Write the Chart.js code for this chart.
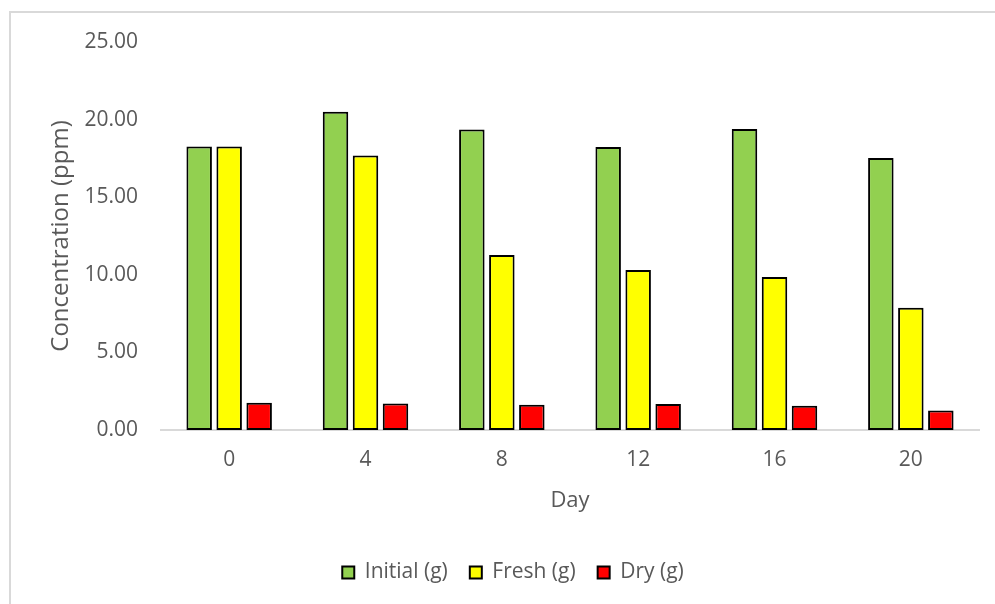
<!DOCTYPE html>
<html>
<head>
<meta charset="utf-8">
<script src="https://cdn.jsdelivr.net/npm/chart.js@4"></script>
<style>
  html, body { margin: 0; padding: 0; background: #fff; overflow: hidden; }
  #frame { position: absolute; left: 9px; top: 11px; width: 1100px; height: 700px;
           border-top: 2px solid #d9d9d9; border-left: 2px solid #d9d9d9; }
  #wrap { position: absolute; left: 0; top: 0; width: 995px; height: 604px; }
</style>
</head>
<body>
<div id="frame"></div>
<div id="wrap"><canvas id="chart" width="995" height="604"></canvas></div>
<script>
// values
const days = ['0', '4', '8', '12', '16', '20'];
const initial = [18.26, 20.51, 19.36, 18.24, 19.40, 17.53];
const fresh = [18.26, 17.68, 11.28, 10.31, 9.86, 7.88];
const dry = [1.76, 1.71, 1.63, 1.67, 1.56, 1.25];
const yTicks = [0, 5, 10, 15, 20, 25];

const textColor = '#595959';
const fontFamily = '"Open Sans", sans-serif';

function bars(label, data, color) {
    return {
        label: label,
        data: data,
        backgroundColor: color,
        borderColor: '#000000',
        borderWidth: 2,
        borderSkipped: false,
        categoryPercentage: 0.66,
        barPercentage: 0.85
    };
}

new Chart(document.querySelector('#chart').getContext('2d'), {
    type: 'bar',
    data: {
        labels: days,
        datasets: [
            bars('Initial (g)', initial, '#92D050'),
            bars('Fresh (g)', fresh, '#FFFF00'),
            bars('Dry (g)', dry, '#FF0000')
        ]
    },
    options: {
        responsive: false,
        animation: false,
        // left padding keeps the legend centred where the original has it
        layout: { padding: { top: 42, right: 16, bottom: 11, left: 47 } },
        plugins: {
            tooltip: { enabled: false },
            legend: {
                position: 'bottom',
                labels: {
                    color: textColor,
                    font: { family: fontFamily, size: 21 },
                    boxWidth: 12,
                    boxHeight: 12,
                    padding: 22
                }
            }
        },
        scales: {
            x: {
                grid: { display: false },
                border: { display: true, color: '#d9d9d9', width: 2 },
                ticks: { color: textColor, font: { family: fontFamily, size: 21 }, padding: 9 },
                title: {
                    display: true, text: 'Day', color: textColor,
                    font: { family: fontFamily, size: 22 },
                    padding: { top: 0, bottom: 26 }
                },
                afterFit: s => { s.height = 110; }
            },
            y: {
                min: 0,
                max: 25,
                afterBuildTicks: s => { s.ticks = yTicks.map(v => ({ value: v })); },
                grid: { display: false },
                border: { display: false },
                ticks: {
                    color: textColor,
                    font: { family: fontFamily, size: 21 },
                    padding: 15,
                    callback: v => Number(v).toFixed(2)
                },
                title: {
                    display: true, text: 'Concentration (ppm)', color: textColor,
                    font: { family: fontFamily, size: 24 },
                    padding: { top: 0, bottom: 0 }
                },
                afterFit: s => { s.width = 114; }
            }
        }
    }
});
</script>
</body>
</html>
